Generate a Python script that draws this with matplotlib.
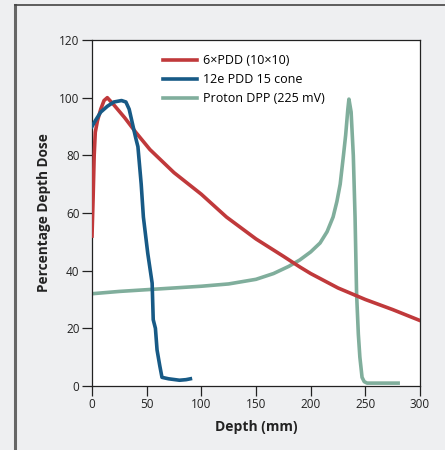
import numpy as np
import matplotlib.pyplot as plt
from matplotlib.lines import Line2D

# depth dose curves
photon_x = [0, 1, 2, 3, 5, 8, 11, 14, 20, 30, 40, 53, 75, 100, 123, 150, 175, 190, 200, 225, 250, 275, 300]
photon_y = [52, 65, 80, 88, 92, 96, 99, 100, 97.5, 93, 88, 82, 74, 66.5, 58.6, 51, 45, 41.3, 39, 34, 30, 26.5, 22.7]

electron_x = [0, 3, 8, 14, 20, 27, 31, 34, 37, 40, 42, 45, 47, 51, 55, 56, 58, 59.5, 62, 64, 70, 80, 86, 90]
electron_y = [90, 92, 95, 97, 98.5, 99, 98.5, 96, 91, 86, 83, 70, 58.6, 46, 35.7, 23, 20, 12.5, 7, 3, 2.5, 2, 2.2, 2.5]

proton_x = [0, 25, 50, 75, 100, 125, 150, 166, 180, 190, 200, 208.6, 215, 220.5, 224, 227, 230, 232, 234, 235,
            237, 239, 240.6, 242, 243.6, 245, 247, 249, 251.6, 260, 270, 280]
proton_y = [32, 32.8, 33.4, 34, 34.6, 35.4, 37, 39, 41.5, 43.7, 46.5, 49.6, 53.5, 58.6, 64, 70, 80, 87, 96, 99.5,
            95, 80, 58.6, 32, 18, 10, 3, 1.5, 1, 1, 1, 1]

labels = ["6\u00d7PDD (10\u00d710)", "12e PDD 15 cone", "Proton DPP (225 mV)"]
colors = ["#c0393b", "#175a86", "#80ae9c"]

plt.rcParams['font.family'] = ['Open Sans', 'DejaVu Sans']

fig = plt.figure(figsize=(4.45, 4.5), dpi=100)
fig.patch.set_facecolor("#eeeff1")
# partial frame around the panel (left and top edges only)
fig.add_artist(Line2D([15 / 445, 15 / 445], [0, 1 - 5 / 450], transform=fig.transFigure,
                      color="#666666", lw=2.2))
fig.add_artist(Line2D([15 / 445, 1], [1 - 5 / 450, 1 - 5 / 450], transform=fig.transFigure,
                      color="#444444", lw=1.2))

ax = fig.add_axes([92 / 445, 1 - 386 / 450, 328 / 445, 346 / 450])
ax.set_facecolor("white")

l1, = ax.plot(photon_x, photon_y, color=colors[0], lw=2.6, zorder=3)
l2, = ax.plot(electron_x, electron_y, color=colors[1], lw=2.6, zorder=4)
l3, = ax.plot(proton_x, proton_y, color=colors[2], lw=2.6, zorder=2)

ax.set_xlim(0, 300)
ax.set_ylim(0, 120)
ax.set_xticks(range(0, 301, 50))
ax.set_yticks(range(0, 121, 20))
ax.tick_params(direction='out', length=7, width=0.9, labelsize=8.5, colors="#222222", pad=2)
for s in ax.spines.values():
    s.set_linewidth(0.9)
    s.set_color("#222222")

ax.set_xlabel("Depth (mm)", fontsize=10, fontweight='bold', color="#222222", labelpad=6)
ax.set_ylabel("Percentage Depth Dose", fontsize=9.8, fontweight='bold', color="#222222", labelpad=6)

ax.legend([l1, l2, l3], labels, loc='upper left', bbox_to_anchor=(0.19, 0.985), frameon=False,
          fontsize=9, handlelength=2.7, handletextpad=0.5, labelspacing=0.5, borderaxespad=0.3)

fig.savefig("out.png", dpi=100, facecolor=fig.get_facecolor())
